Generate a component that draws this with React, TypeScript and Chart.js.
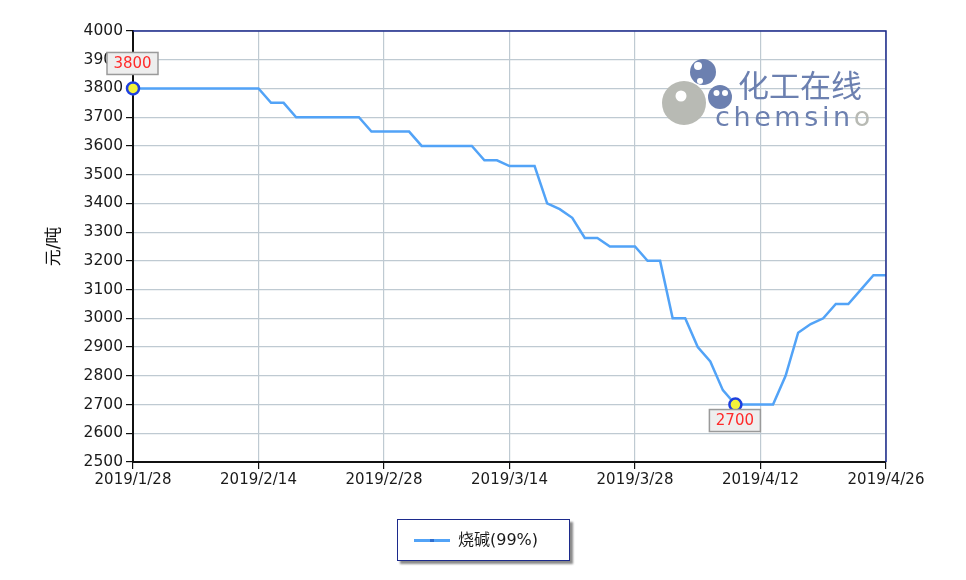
import React, { useEffect, useRef } from "react";
import { Chart, registerables } from "chart.js";

Chart.register(...registerables);

// ---- data ----
const dates: string[] = [
  "2019/1/28", "2019/1/29", "2019/1/30", "2019/1/31", "2019/2/1", "2019/2/2", "2019/2/3",
  "2019/2/11", "2019/2/12", "2019/2/13", "2019/2/14",
  "2019/2/15", "2019/2/18", "2019/2/19", "2019/2/20", "2019/2/21", "2019/2/22",
  "2019/2/25", "2019/2/26", "2019/2/27", "2019/2/28",
  "2019/3/1", "2019/3/4", "2019/3/5", "2019/3/6", "2019/3/7", "2019/3/8",
  "2019/3/11", "2019/3/12", "2019/3/13", "2019/3/14",
  "2019/3/15", "2019/3/18", "2019/3/19", "2019/3/20", "2019/3/21", "2019/3/22",
  "2019/3/25", "2019/3/26", "2019/3/27", "2019/3/28",
  "2019/3/29", "2019/4/1", "2019/4/2", "2019/4/3", "2019/4/4",
  "2019/4/8", "2019/4/9", "2019/4/10", "2019/4/11", "2019/4/12",
  "2019/4/15", "2019/4/16", "2019/4/17", "2019/4/18", "2019/4/19",
  "2019/4/22", "2019/4/23", "2019/4/24", "2019/4/25", "2019/4/26",
];

const prices: number[] = [
  3800, 3800, 3800, 3800, 3800, 3800, 3800, 3800, 3800, 3800, 3800,
  3750, 3750,
  3700, 3700, 3700, 3700, 3700, 3700,
  3650, 3650, 3650, 3650,
  3600, 3600, 3600, 3600, 3600,
  3550, 3550,
  3530, 3530, 3530,
  3400, 3380, 3350,
  3280, 3280,
  3250, 3250, 3250,
  3200, 3200,
  3000, 3000,
  2900, 2850, 2750,
  2700, 2700, 2700, 2700,
  2800, 2950, 2980, 3000,
  3050, 3050,
  3100,
  3150, 3150,
];

const seriesName = "烧碱(99%)";
const yAxisTitle = "元/吨";
const yMin = 2500;
const yMax = 4000;
const yStep = 100;
const labelEvery = 10;
const logoCn = "化工在线";
const logoEn = "chemsin";
const logoEnLast = "o";

const FONT = "'DejaVu Sans', 'Noto Sans CJK SC', sans-serif";

export default function App() {
  const ref = useRef<HTMLCanvasElement | null>(null);

  useEffect(() => {
    if (!ref.current) return;
    const maxIdx = prices.indexOf(Math.max(...prices));
    const minIdx = prices.indexOf(Math.min(...prices));

    const decor = {
      id: "decor",
      beforeDatasetsDraw(chart: any) {
        const ctx = chart.ctx as CanvasRenderingContext2D;
        ctx.save();
        const circle = (x: number, y: number, r: number, c: string) => {
          ctx.beginPath();
          ctx.arc(x, y, r, 0, Math.PI * 2);
          ctx.fillStyle = c;
          ctx.fill();
        };
        const gray = "#b8bab4";
        const blue = "#6c80b0";
        circle(684, 103, 22, gray);
        circle(681, 96, 5.5, "#ffffff");
        circle(703, 72, 13, blue);
        circle(698, 66, 4, "#ffffff");
        circle(700, 81, 3, "#ffffff");
        circle(720, 97, 12, blue);
        circle(716.5, 93, 3, "#ffffff");
        circle(725, 93, 3, "#ffffff");
        ctx.fillStyle = blue;
        ctx.textBaseline = "alphabetic";
        ctx.textAlign = "left";
        ctx.font = "400 31px 'Noto Sans CJK SC'";
        ctx.fillText(logoCn, 738, 97);
        ctx.font = "27px 'DejaVu Sans'";
        let x = 715;
        const spacing = 3.6;
        for (const ch of logoEn) {
          ctx.fillText(ch, x, 126);
          x += ctx.measureText(ch).width + spacing;
        }
        ctx.fillStyle = gray;
        ctx.fillText(logoEnLast, x, 126);
        ctx.restore();
      },
      afterDatasetsDraw(chart: any) {
        const ctx = chart.ctx as CanvasRenderingContext2D;
        const { left, right, top, bottom } = chart.chartArea;
        ctx.save();
        // top & right frame
        ctx.strokeStyle = "#1c2a8c";
        ctx.lineWidth = 1.5;
        ctx.beginPath();
        ctx.moveTo(left, top);
        ctx.lineTo(right, top);
        ctx.lineTo(right, bottom);
        ctx.stroke();

        const meta = chart.getDatasetMeta(0);
        const drawLabel = (idx: number, above: boolean) => {
          const pt = meta.data[idx];
          const w = 51;
          const h = 22;
          const bx = pt.x - 26;
          const by = above ? pt.y - 36 : pt.y + 5;
          ctx.fillStyle = "#eeeeee";
          ctx.fillRect(bx, by, w, h);
          ctx.strokeStyle = "#9a9a9a";
          ctx.lineWidth = 1.5;
          ctx.strokeRect(bx, by, w, h);
          ctx.fillStyle = "#ff2a2a";
          ctx.font = "15px 'DejaVu Sans'";
          ctx.textAlign = "center";
          ctx.textBaseline = "middle";
          ctx.fillText(String(prices[idx]), bx + w / 2, by + h / 2 + 1);
        };
        drawLabel(maxIdx, true);
        drawLabel(minIdx, false);
        ctx.restore();
      },
    };

    const chart = new Chart(ref.current, {
      type: "line",
      data: {
        labels: dates,
        datasets: [
          {
            label: seriesName,
            data: prices,
            borderColor: "#52a3f7",
            borderWidth: 2.5,
            tension: 0,
            fill: false,
            clip: 12,
            pointRadius: (c: any) => (c.dataIndex === maxIdx || c.dataIndex === minIdx ? 6 : 0),
            pointBackgroundColor: "#f2f23a",
            pointBorderColor: "#1d3fe0",
            pointBorderWidth: 2.5,
          } as any,
        ],
      },
      options: {
        animation: false,
        responsive: true,
        maintainAspectRatio: false,
        events: [],
        layout: { padding: { left: 40, right: 80, top: 31, bottom: 88 } },
        plugins: {
          legend: { display: false },
          tooltip: { enabled: false },
          title: { display: false },
        },
        scales: {
          x: {
            type: "category",
            afterFit: (s: any) => {
              s.height = 30;
            },
            grid: {
              color: "#bfcad2",
              lineWidth: 1.2,
              tickColor: "#111111",
              tickLength: 7,
              drawOnChartArea: true,
            },
            border: { color: "#111111", width: 2 },
            ticks: {
              autoSkip: false,
              maxRotation: 0,
              minRotation: 0,
              padding: 2,
              color: "#1a1a1a",
              font: { family: FONT, size: 15 },
              callback: (_v: any, i: number) => (i % labelEvery === 0 ? dates[i] : null),
            },
          },
          y: {
            min: yMin,
            max: yMax,
            afterFit: (s: any) => {
              s.width = 93;
            },
            grid: {
              color: "#bfcad2",
              lineWidth: 1.2,
              tickColor: "#111111",
              tickLength: 7,
            },
            border: { color: "#111111", width: 2 },
            ticks: {
              stepSize: yStep,
              padding: 3,
              color: "#1a1a1a",
              font: { family: FONT, size: 15.5 },
              callback: (v: any) => String(v),
            },
            title: {
              display: true,
              text: yAxisTitle,
              color: "#111111",
              font: { family: FONT, size: 17 },
              padding: { top: 4, bottom: 4 },
            },
          },
        },
      },
      plugins: [decor],
    } as any);

    return () => chart.destroy();
  }, []);

  return (
    <div style={{ position: "fixed", left: 0, top: 0, width: 966, height: 580, background: "#ffffff" }}>
      <div style={{ position: "absolute", left: 0, top: 0, width: 966, height: 580 }}>
        <canvas ref={ref} />
      </div>
      <div
        style={{
          position: "absolute",
          left: 397,
          top: 519,
          width: 171,
          height: 40,
          border: "1px solid #1c2a8c",
          boxShadow: "3px 3px 2px #8a8a8a",
          background: "#ffffff",
          boxSizing: "content-box",
        }}
      >
        <div style={{ position: "absolute", left: 16, top: 19, width: 36, height: 3, background: "#52a3f7" }} />
        <div style={{ position: "absolute", left: 32, top: 19, width: 4, height: 3, background: "#2f6fd0" }} />
        <div
          style={{
            position: "absolute",
            left: 60,
            top: 9,
            fontFamily: FONT,
            fontSize: 16,
            lineHeight: "22px",
            color: "#1a1a1a",
            whiteSpace: "nowrap",
          }}
        >
          {seriesName}
        </div>
      </div>
    </div>
  );
}
